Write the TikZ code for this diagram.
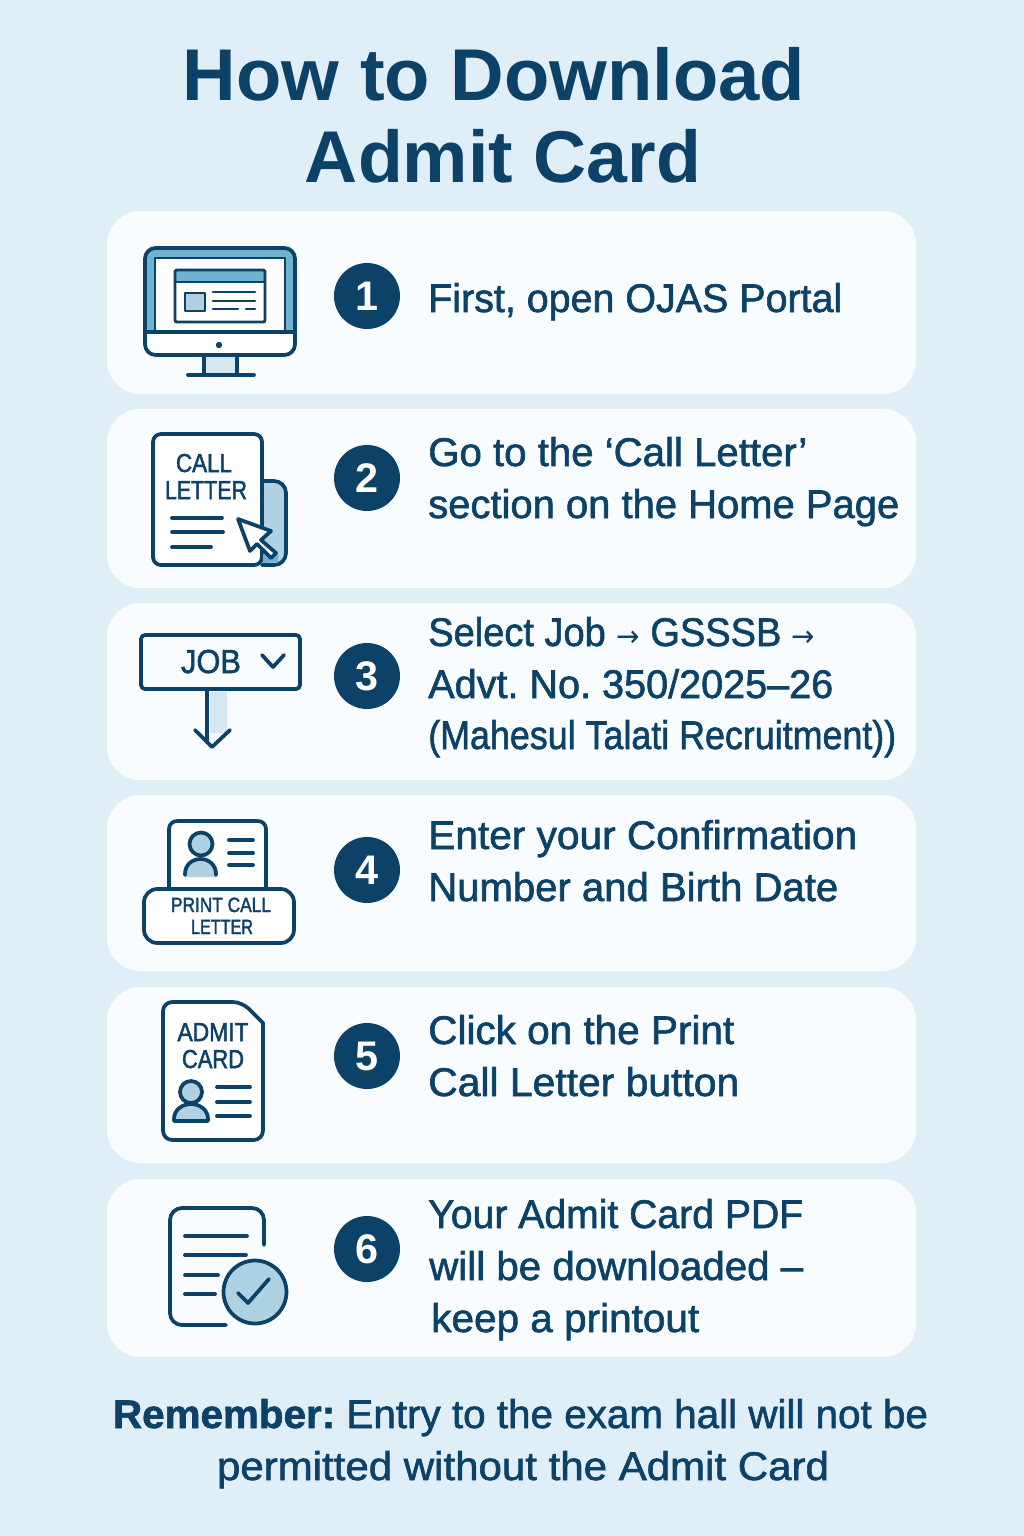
\documentclass[tikz,border=0pt]{standalone}
\usepackage{graphicx}
\usepackage{fontspec}
\setmainfont{Liberation Sans}
\newfontfamily\medfont[RawFeature={embolden=1.5}]{Liberation Sans}
\newfontfamily\iconfont[RawFeature={embolden=2}]{Liberation Sans}
\newfontfamily\arrowfont{DejaVu Sans}
\frenchspacing
\definecolor{bgc}{HTML}{DFEEF7}
\definecolor{cardc}{HTML}{F8FCFE}
\definecolor{ink}{HTML}{0C4168}
\definecolor{midc}{HTML}{6FB3D0}
\definecolor{lightc}{HTML}{AFD2E3}
\definecolor{palec}{HTML}{D5E7F1}
% set text to a given width (reference pixels), keeping its height
\newcommand{\fitw}[2]{\resizebox{#1\dimexpr0.75pt\relax}{\height}{#2}}
\newcommand{\smallarrow}{{\arrowfont\fontsize{22}{22}\selectfont →}}
\tikzset{
 x=0.75pt,y=-0.75pt,
 cardbox/.style={fill=cardc,rounded corners=25pt},
 numdisc/.style={circle,fill=ink,text=white,minimum size=49.5pt,inner sep=0pt,font=\fontsize{31}{31}\selectfont\bfseries},
 ln/.style={draw=ink,line width=2.8pt,line cap=round,line join=round},
 thin ln/.style={draw=ink,line width=2.2pt,line cap=round,line join=round},
 body/.style={anchor=base west,inner sep=0pt,text=ink,font=\fontsize{30}{30}\medfont},
 titletext/.style={anchor=base,inner sep=0pt,text=ink,font=\fontsize{55}{55}\bfseries},
 foot/.style={anchor=base,inner sep=0pt,text=ink,font=\fontsize{30}{30}\medfont},
 icontext/.style={anchor=base,inner sep=0pt,text=ink,font=\fontsize{19.5}{19.5}\iconfont},
 smalltext/.style={anchor=base,inner sep=0pt,text=ink,font=\fontsize{15.5}{15.5}\iconfont},
}
\begin{document}
\begin{tikzpicture}
\fill[bgc] (0,0) rectangle (1024,1536);
\useasboundingbox (0,0) rectangle (1024,1536);
\node[titletext] (t1) at (494,100) {\fitw{622}{How to Download}};
\node[titletext] (t2) at (503,182) {\fitw{396}{Admit Card}};
% cards
\fill[cardbox] (107,211) rectangle (916,394);
\fill[cardbox] (107,409) rectangle (916,588);
\fill[cardbox] (107,603) rectangle (916,780);
\fill[cardbox] (107,795) rectangle (916,971);
\fill[cardbox] (107,987) rectangle (916,1163);
\fill[cardbox] (107,1179) rectangle (916,1357);
% numbers
\node[numdisc] (n1) at (367,296) {1};
\node[numdisc] (n2) at (367,478) {2};
\node[numdisc] (n3) at (367,676) {3};
\node[numdisc] (n4) at (367,870) {4};
\node[numdisc] (n5) at (367,1056) {5};
\node[numdisc] (n6) at (367,1249) {6};
% texts
\node[body] (a1) at (428,312) {\fitw{414}{First, open OJAS Portal}};
\node[body] (a2) at (428,466) {\fitw{379}{Go to the ‘Call Letter’}};
\node[body] (a3) at (428,518) {\fitw{471}{section on the Home Page}};
\node[body] (a4) at (428,646) {\fitw{387}{Select Job \smallarrow{} GSSSB \smallarrow}};
\node[body] (a5) at (428,698) {\fitw{405}{Advt. No. 350/2025–26}};
\node[body] (a6) at (428,749) {\fitw{468}{(Mahesul Talati Recruitment))}};
\node[body] (a7) at (428,849) {\fitw{429}{Enter your Confirmation}};
\node[body] (a8) at (428,901) {\fitw{410}{Number and Birth Date}};
\node[body] (a9) at (428,1044) {\fitw{306}{Click on the Print}};
\node[body] (a10) at (428,1096) {\fitw{311}{Call Letter button}};
\node[body] (a11) at (428,1228) {\fitw{375}{Your Admit Card PDF}};
\node[body] (a12) at (429,1280) {\fitw{374}{will be downloaded –}};
\node[body] (a13) at (431,1332) {\fitw{268}{keep a printout}};
\node[foot] (f1) at (520.5,1428) {\fitw{815}{{\bfseries Remember:} Entry to the exam hall will not be}};
\node[foot] (f2) at (523,1480) {\fitw{612}{permitted without the Admit Card}};
% icon 1
\fill[midc,rounded corners=8pt] (145,248) rectangle (295,334);
\fill[white] (155,258) rectangle (285,332);
\draw[ln,fill=white,rounded corners=8pt] (145,332) -- (145,355) -- (295,355) -- (295,332);
\draw[ln,rounded corners=8pt] (145,334) -- (145,248) -- (295,248) -- (295,334);
\draw[ln] (145,332) -- (295,332);
\draw[thin ln] (155,332) -- (155,258) -- (285,258) -- (285,332);
\fill[ink] (219,345) circle (3.2);
\fill[palec] (204,357) rectangle (237,375);
\draw[ln] (204,357) -- (204,375);
\draw[ln] (237,357) -- (237,375);
\draw[ln] (188,375) -- (254,375);
\fill[midc] (175,270) rectangle (265,282);
\draw[thin ln,rounded corners=1.5pt] (175,270) rectangle (265,322);
\draw[thin ln] (175,282) -- (265,282);
\draw[thin ln,fill=lightc] (185,293) rectangle (205,311);
\draw[thin ln] (213,292) -- (255,292);
\draw[thin ln] (213,301) -- (255,301);
\draw[thin ln] (213,309) -- (238,309);
\draw[thin ln] (246,309) -- (255,309);
% icon 2
\fill[lightc,rounded corners=9pt] (255,481) -- (286,481) -- (286,565) -- (255,565) -- cycle;
\draw[ln,rounded corners=9pt] (262,481) -- (286,481) -- (286,565) -- (262,565);
\draw[ln,fill=white,rounded corners=6pt] (153,434) rectangle (262,565);
\fill[midc] (263,554) -- (278,554) -- (278,562) -- (263,563) -- cycle;
\node[icontext] (c1) at (204,472) {\fitw{56}{CALL}};
\node[icontext] (c2) at (206,499) {\fitw{82}{LETTER}};
\draw[ln] (172,518) -- (222,518);
\draw[ln] (172,532) -- (223,532);
\draw[ln] (172,547) -- (211,547);
\draw[ln,fill=white] (238,519) -- (271,531) -- (261,540) -- (276,553) -- (271,558) -- (257,544) -- (250,551) -- cycle;
% icon 3
\fill[palec] (210,692) rectangle (227,733);
\draw[ln,rounded corners=3pt] (141,635) rectangle (300,689);
\node[font=\fontsize{25}{25}\medfont,anchor=base,inner sep=0pt,text=ink] (j) at (211,673) {\fitw{60}{JOB}};
\draw[ln] (262,655) -- (273,667) -- (284,655);
\draw[ln] (207,691) -- (207,742);
\draw[ln] (195,730) -- (212,747) -- (230,730);
% icon 4
\draw[ln,fill=white,rounded corners=6pt] (169,887) -- (169,821) -- (266,821) -- (266,887);
\fill[lightc] (185,877) -- (185,874) .. controls (185,865) and (192,859) .. (200.5,859) .. controls (209,859) and (216,865) .. (216,874) -- (216,877) -- cycle;
\draw[ln] (185,875) -- (185,874) .. controls (185,865) and (192,859) .. (200.5,859) .. controls (209,859) and (216,865) .. (216,874) -- (216,875);
\draw[ln,fill=lightc] (201,844) circle (11.5);
\draw[ln] (229,840) -- (253,840);
\draw[ln] (229,853) -- (253,853);
\draw[ln] (229,865) -- (253,865);
\draw[ln,fill=white,rounded corners=10pt] (144,889) rectangle (294,943);
\node[smalltext] (p1) at (221,912) {\fitw{100}{PRINT CALL}};
\node[smalltext] (p2) at (222,934) {\fitw{62}{LETTER}};
% icon 5
\draw[ln,fill=white,rounded corners=7pt] (163,1002) -- (242,1002) [sharp corners] -- (263,1023) [rounded corners=7pt] -- (263,1140) -- (163,1140) -- cycle;
\node[icontext] (d1) at (213,1041) {\fitw{71}{ADMIT}};
\node[icontext] (d2) at (213,1068) {\fitw{62}{CARD}};
\draw[ln,fill=lightc] (174,1121) -- (174,1119) .. controls (174,1110) and (182,1104) .. (191,1104) .. controls (200,1104) and (208,1110) .. (208,1119) -- (208,1121) -- cycle;
\draw[ln,fill=lightc] (191,1092) circle (11);
\draw[ln] (217,1087) -- (250,1087);
\draw[ln] (217,1102) -- (250,1102);
\draw[ln] (217,1116) -- (250,1116);
% icon 6
\draw[ln,rounded corners=9pt] (264,1245) -- (264,1208) -- (170,1208) -- (170,1325) -- (226,1325);
\draw[ln] (185,1236) -- (247,1236);
\draw[ln] (185,1255) -- (246,1255);
\draw[ln] (185,1275) -- (218,1275);
\draw[ln] (185,1294) -- (215,1294);
\draw[ln,fill=lightc] (255,1292) circle (31.5);
\draw[ln] (238,1293) -- (248,1303) -- (269,1279);
\end{tikzpicture}
\end{document}
